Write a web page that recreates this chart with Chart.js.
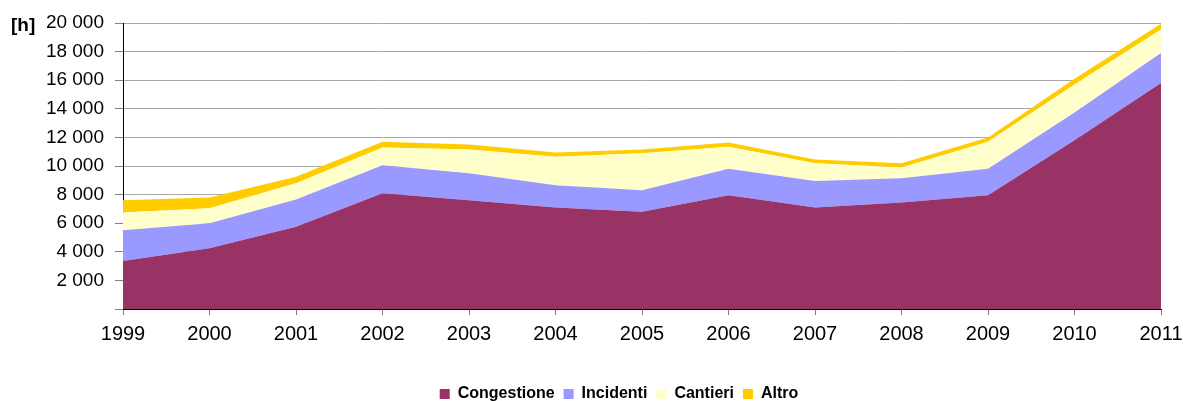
<!DOCTYPE html>
<html>
<head>
<meta charset="utf-8">
<script src="https://cdn.jsdelivr.net/npm/chart.js@4/dist/chart.umd.min.js"></script>
<style>
  html, body { margin: 0; padding: 0; background: #fff; }
  #wrap { width: 1183px; height: 401px; }
</style>
</head>
<body>
<div id="wrap"><canvas id="myChart" width="1183" height="401"></canvas></div>
<script>
const ctx = document.getElementById('myChart').getContext('2d');

const anni = ['1999', '2000', '2001', '2002', '2003', '2004', '2005', '2006', '2007', '2008', '2009', '2010', '2011'];
const congestione = [3350, 4250, 5750, 8100, 7600, 7100, 6800, 7950, 7100, 7450, 7950, 11800, 15800];
const incidenti = [2150, 1750, 1900, 1950, 1900, 1550, 1500, 1850, 1850, 1700, 1850, 1950, 2100];
const cantieri = [1250, 1050, 1150, 1250, 1650, 2000, 2600, 1550, 1250, 750, 1900, 1950, 1650];
const altro = [850, 750, 450, 400, 350, 300, 250, 300, 250, 300, 300, 400, 400];
const yTicks = [0, 2000, 4000, 6000, 8000, 10000, 12000, 14000, 16000, 18000, 20000];

const font = 'Arial, "Liberation Sans", sans-serif';

function fmt(v) {
    if (v === 0) return '';
    return String(v).replace(/\B(?=(\d{3})+(?!\d))/g, ' ');
}

function serie(label, data, color, fill) {
    return {
        label: label,
        data: data,
        backgroundColor: color,
        borderColor: color,
        borderWidth: 0,
        pointRadius: 0,
        pointHoverRadius: 0,
        tension: 0,
        fill: fill
    };
}

// etichetta unità in alto a sinistra + legenda spostata
const extra = {
    id: 'extra',
    afterLayout(chart) {
        const lg = chart.legend;
        if (lg) {
            const dx = 619 - (lg.left + lg.right) / 2;
            const dy = 11;
            lg.left += dx;
            lg.right += dx;
            lg.top += dy;
            lg.bottom += dy;
            if (lg.legendHitBoxes) lg.legendHitBoxes.forEach(h => { h.left += dx; h.top += dy; });
        }
    },
    afterDraw(chart) {
        const c = chart.ctx;
        c.save();
        c.font = 'bold 19px ' + font;
        c.fillStyle = '#000';
        c.textBaseline = 'middle';
        c.textAlign = 'left';
        c.fillText('[h]', 11, 26);
        c.restore();
    }
};

const myChart = new Chart(ctx, {
    type: 'line',
    data: {
        labels: anni,
        datasets: [
            serie('Congestione', congestione, '#993366', 'origin'),
            serie('Incidenti', incidenti, '#9999FF', '-1'),
            serie('Cantieri', cantieri, '#FFFFCC', '-1'),
            serie('Altro', altro, '#FFCC00', '-1')
        ]
    },
    options: {
        responsive: false,
        animation: false,
        layout: { padding: { left: 0, right: 22, top: 23, bottom: 0 } },
        plugins: {
            tooltip: { enabled: false },
            legend: {
                position: 'bottom',
                labels: {
                    color: '#000',
                    font: { family: font, size: 16, weight: 'bold' },
                    boxWidth: 10,
                    boxHeight: 10,
                    padding: 9
                }
            }
        },
        scales: {
            x: {
                offset: false,
                grid: { drawOnChartArea: false, drawTicks: true, tickLength: 6, color: '#808080' },
                border: { display: true, color: '#000', width: 1 },
                ticks: { color: '#000', font: { family: font, size: 20 }, padding: 7, maxRotation: 0, autoSkip: false },
                afterFit(scale) {
                    scale.height = 57;
                    scale.paddingLeft = 0;
                    scale.paddingRight = 0;
                }
            },
            y: {
                stacked: true,
                min: 0,
                max: 20000,
                afterBuildTicks(scale) { scale.ticks = yTicks.map(v => ({ value: v })); },
                grid: { color: '#a8a8a8', tickColor: '#808080', tickLength: 8 },
                border: { display: true, color: '#000', width: 1 },
                ticks: { color: '#000', font: { family: font, size: 19 }, padding: 11, callback: fmt },
                afterFit(scale) { scale.width = 123; }
            }
        }
    },
    plugins: [extra]
});
</script>
</body>
</html>
